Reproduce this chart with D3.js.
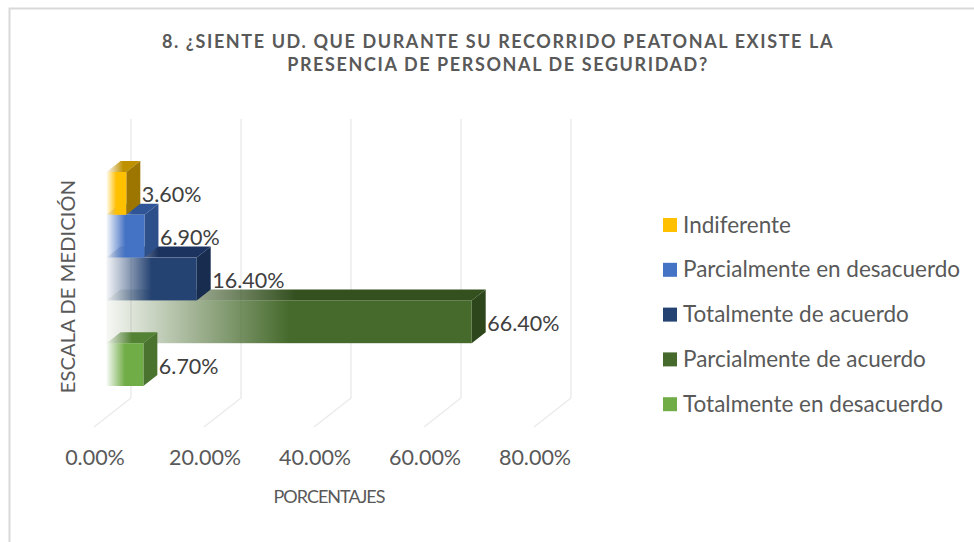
<!DOCTYPE html>
<html lang="es">
<head>
<meta charset="UTF-8">
<title>Personal de seguridad</title>
<style>
    html, body { margin: 0; padding: 0; background: #fff; }
    svg { display: block; }
    text { font-family: Lato, "Open Sans", sans-serif; }
    .tick text { font-size: 21.5px; fill: #595959; font-family: Lato, sans-serif; }
    .axis-label { font-size: 20px; fill: #595959; letter-spacing: 0.15px; }
    .axis-label.x-label { font-size: 18px; letter-spacing: -1px; }
    .value-label { font-size: 21.5px; fill: #404040; }
    .legend-label { font-size: 22.5px; fill: #595959; }
    .chart-title { font-size: 18px; font-weight: 700; fill: #595959; letter-spacing: 1.6px; }
</style>
</head>
<body>
<svg width="974" height="542"></svg>
<script src="https://d3js.org/d3.v7.min.js"></script>
<script>
    // Data
    const categories = ['Indiferente', 'Parcialmente en desacuerdo', 'Totalmente de acuerdo', 'Parcialmente de acuerdo', 'Totalmente en desacuerdo'];
    const values = [3.6, 6.9, 16.4, 66.4, 6.7];
    const xTicks = [0, 20, 40, 60, 80];
    const titleLines = ['8. ¿SIENTE UD. QUE DURANTE SU RECORRIDO PEATONAL EXISTE LA', 'PRESENCIA DE PERSONAL DE SEGURIDAD?'];

    const frontColors = ['#ffc000', '#4472c4', '#244272', '#466a2c', '#70ad47'];
    const topColors = ['#bf9000', '#2f5597', '#1c3360', '#34501f', '#548235'];
    const sideColors = ['#9c7600', '#2d4f8a', '#182c50', '#2d461c', '#4a7330'];

    const data = categories.map(function (c, i) {
        return { name: c, value: values[i], i: i };
    });

    // 3D look of the bars and walls
    const depthX = 14, depthY = -11;
    const wallX = 24.5, floorFrontX = -12.5, floorTop = 119, floorBack = 398, floorFront = 427;

    const svg = d3.select('svg');

    const xScale = d3.scaleLinear().domain([0, 80]).range([106.5, 546.5]);
    const yScale = d3.scaleBand().domain(categories).range([172, 386]).padding(0);

    // chart border (only top and left fall inside the picture)
    svg.append('path')
        .attr('d', 'M9.5 542V8.5H974')
        .attr('fill', 'none')
        .attr('stroke', '#d9d9d9')
        .attr('stroke-width', 2);

    // title
    svg.selectAll('.chart-title')
        .data(titleLines)
        .enter()
        .append('text')
        .attr('class', 'chart-title')
        .attr('x', 498)
        .attr('y', function (d, i) { return 48 + i * 23; })
        .attr('text-anchor', 'middle')
        .text(function (d) { return d; });

    // gridlines with their floor part
    svg.selectAll('.grid')
        .data(xTicks)
        .enter()
        .append('path')
        .attr('class', 'grid')
        .attr('fill', 'none')
        .attr('stroke', '#ebebeb')
        .attr('stroke-width', 1.5)
        .attr('d', function (d) {
            const x = xScale(d);
            return 'M' + (x + wallX) + ' ' + floorTop + 'V' + floorBack + 'L' + (x + floorFrontX) + ' ' + floorFront;
        });

    // fade from the axis side of each bar
    const defs = svg.append('defs');

    function addFade(id, color) {
        const g = defs.append('linearGradient').attr('id', id).attr('x1', 0).attr('x2', 1).attr('y1', 0).attr('y2', 0);
        g.append('stop').attr('offset', 0).attr('stop-color', color).attr('stop-opacity', 0.05);
        g.append('stop').attr('offset', 0.5).attr('stop-color', color).attr('stop-opacity', 1);
    }

    data.forEach(function (d) {
        addFade('front' + d.i, frontColors[d.i]);
        addFade('top' + d.i, topColors[d.i]);
    });

    // longest bars first so the shorter ones sit on top of them
    const drawOrder = data.slice().sort(function (a, b) { return b.value - a.value; });

    const bars = svg.selectAll('.bar')
        .data(drawOrder)
        .enter()
        .append('g')
        .attr('class', 'bar');

    bars.append('path')
        .attr('fill', function (d) { return 'url(#top' + d.i + ')'; })
        .attr('d', function (d) {
            const x0 = xScale(0), x1 = xScale(d.value), y = yScale(d.name);
            return 'M' + x0 + ' ' + y + 'L' + (x0 + depthX) + ' ' + (y + depthY) + 'H' + (x1 + depthX) + 'L' + x1 + ' ' + y + 'Z';
        });

    bars.append('path')
        .attr('fill', function (d) { return sideColors[d.i]; })
        .attr('d', function (d) {
            const x1 = xScale(d.value), y = yScale(d.name), h = yScale.bandwidth();
            return 'M' + x1 + ' ' + y + 'L' + (x1 + depthX) + ' ' + (y + depthY) + 'V' + (y + depthY + h) + 'L' + x1 + ' ' + (y + h) + 'Z';
        });

    bars.append('rect')
        .attr('fill', function (d) { return 'url(#front' + d.i + ')'; })
        .attr('x', xScale(0))
        .attr('y', function (d) { return yScale(d.name); })
        .attr('width', function (d) { return xScale(d.value) - xScale(0); })
        .attr('height', yScale.bandwidth());

    // data labels
    svg.selectAll('.value-label')
        .data(data)
        .enter()
        .append('text')
        .attr('class', 'value-label')
        .attr('x', function (d) { return xScale(d.value) + depthX + 1.5; })
        .attr('y', function (d) { return yScale(d.name) + yScale.bandwidth() / 2 + 9; })
        .text(function (d) { return d.value.toFixed(2) + '%'; });

    // x axis, labels only
    const xAxis = d3.axisBottom(xScale)
        .tickValues(xTicks)
        .tickSize(0)
        .tickPadding(0)
        .tickFormat(function (d) { return d.toFixed(2) + '%'; });

    svg.append('g')
        .attr('transform', 'translate(-12 450)')
        .call(xAxis)
        .call(function (g) { g.select('.domain').remove(); });

    // axis titles
    svg.append('text')
        .attr('class', 'axis-label x-label')
        .attr('x', 329)
        .attr('y', 503)
        .attr('text-anchor', 'middle')
        .text('PORCENTAJES');

    svg.append('text')
        .attr('class', 'axis-label')
        .attr('transform', 'translate(75 286.5) rotate(-90)')
        .attr('text-anchor', 'middle')
        .text('ESCALA DE MEDICIÓN');

    // legend
    const legend = svg.selectAll('.legend')
        .data(data)
        .enter()
        .append('g')
        .attr('class', 'legend')
        .attr('transform', function (d) { return 'translate(663 ' + (225 + d.i * 44.8) + ')'; });

    legend.append('rect')
        .attr('y', -7)
        .attr('width', 14)
        .attr('height', 14)
        .attr('fill', function (d) { return frontColors[d.i]; });

    legend.append('text')
        .attr('class', 'legend-label')
        .attr('x', 20)
        .attr('y', 7.5)
        .text(function (d) { return d.name; });
</script>
</body>
</html>
